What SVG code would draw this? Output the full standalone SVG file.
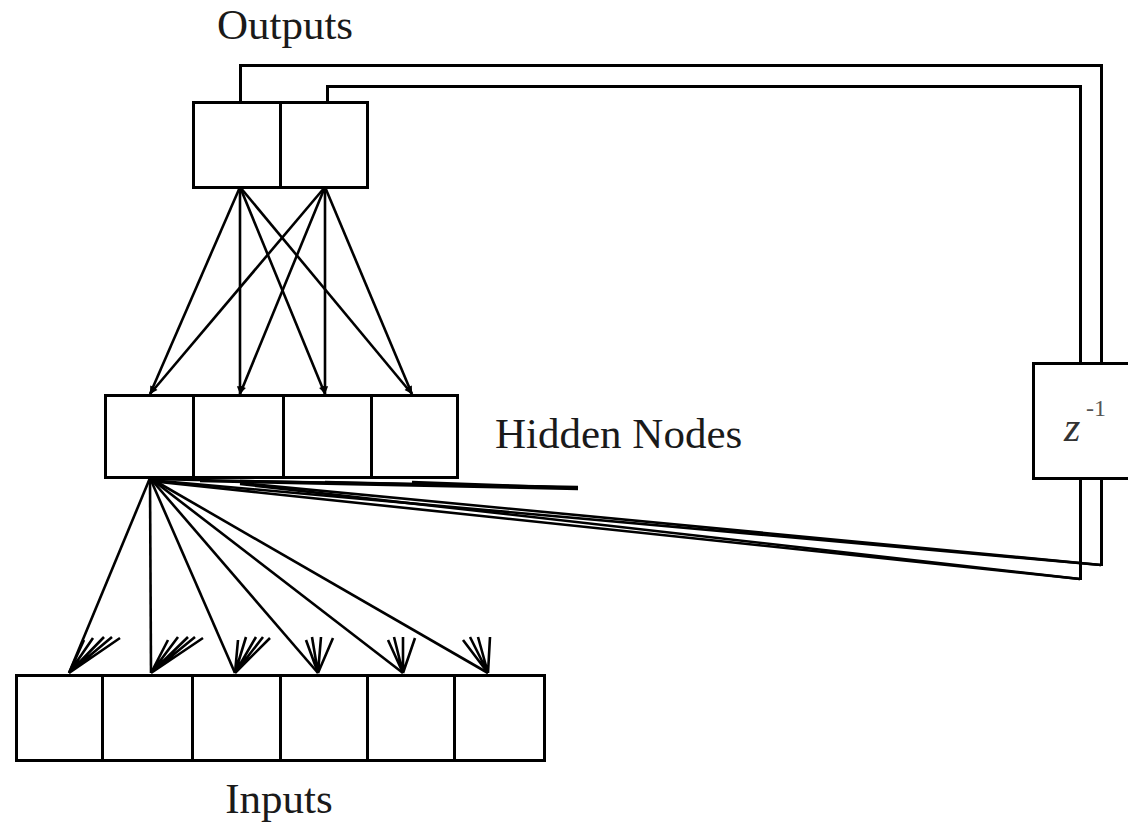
<svg xmlns="http://www.w3.org/2000/svg" width="1128" height="826" viewBox="0 0 1128 826">
  <style>
    .box { fill: #fff; stroke: #000; stroke-width: 3; shape-rendering: crispEdges; }
    .ln { fill: none; stroke: #000; stroke-width: 2.6; stroke-linecap: butt; }
    .fb { fill: none; stroke: #000; stroke-width: 3; shape-rendering: crispEdges; }
    .lbl { font-family: "Liberation Serif", "Times New Roman", serif; font-size: 43px; fill: #1a1a1a; }
    .z { font-family: "Liberation Serif", "Times New Roman", serif; font-style: italic; font-size: 42px; fill: #333; }
    .sup { font-family: "Liberation Serif", "Times New Roman", serif; font-size: 24px; fill: #555; }
  </style>
  <defs>
    <marker id="ah" viewBox="0 0 10 10" refX="10" refY="5" markerWidth="3.5" markerHeight="3" orient="auto" markerUnits="strokeWidth">
      <path d="M0,1 L10,5 L0,9 Z" fill="#000"/>
    </marker>
  </defs>

  <rect width="1128" height="826" fill="#fff"/>

  <g id="connectors">
    <!-- output to hidden -->
    <g class="ln">
      <line x1="240" y1="187" x2="150" y2="394" marker-end="url(#ah)"/>
      <line x1="240" y1="187" x2="240" y2="394" marker-end="url(#ah)"/>
      <line x1="240" y1="187" x2="325" y2="394" marker-end="url(#ah)"/>
      <line x1="240" y1="187" x2="412" y2="394" marker-end="url(#ah)"/>
      <line x1="325" y1="187" x2="150" y2="394" marker-end="url(#ah)"/>
      <line x1="325" y1="187" x2="240" y2="394" marker-end="url(#ah)"/>
      <line x1="325" y1="187" x2="325" y2="394" marker-end="url(#ah)"/>
      <line x1="325" y1="187" x2="412" y2="394" marker-end="url(#ah)"/>
    </g>
    <!-- hidden to inputs -->
    <g class="ln">
      <line x1="150" y1="478" x2="69" y2="673"/>
      <line x1="150" y1="478" x2="151" y2="673"/>
      <line x1="150" y1="478" x2="235" y2="673"/>
      <line x1="150" y1="478" x2="318" y2="673"/>
      <line x1="150" y1="478" x2="403" y2="673"/>
      <line x1="150" y1="478" x2="488" y2="673"/>
    </g>
    <!-- arrowhead fans at inputs -->
    <g class="ln">
      <path d="M69,673 L84,640 M69,673 L93,638 M69,673 L104,637 M69,673 L120,638 M69,673 L112,637"/>
      <path d="M151,673 L168,640 M151,673 L178,637 M151,673 L188,637 M151,673 L203,638 M151,673 L195,637"/>
      <path d="M235,673 L238,640 M235,673 L246,637 M235,673 L256,637 M235,673 L270,638 M235,673 L263,637"/>
      <path d="M318,673 L306,640 M318,673 L312,637 M318,673 L321,637 M318,673 L333,638"/>
      <path d="M403,673 L388,640 M403,673 L394,637 M403,673 L403,637 M403,673 L415,638"/>
      <path d="M488,673 L463,640 M488,673 L470,637 M488,673 L478,637 M488,673 L490,637"/>
    </g>
    <!-- lines along hidden bottom -->
    <g class="ln">
      <line x1="150" y1="479" x2="578" y2="488"/>
      <line x1="200" y1="481" x2="578" y2="489"/>
      <line x1="240" y1="481" x2="578" y2="487"/>
      <line x1="325" y1="482" x2="578" y2="488"/>
      <line x1="412" y1="482" x2="578" y2="488"/>
      <line x1="150" y1="480" x2="1101" y2="565"/>
      <line x1="150" y1="481" x2="1080" y2="579"/>
      <line x1="240" y1="483" x2="1101" y2="565"/>
      <line x1="240" y1="484" x2="1080" y2="579"/>
    </g>
    <!-- feedback loop -->
    <g class="fb">
      <polyline points="240,102 240,65 1101,65 1101,363"/>
      <polyline points="327,102 327,86 1080,86 1080,363"/>
      <line x1="1101" y1="478" x2="1101" y2="566"/>
      <line x1="1080" y1="478" x2="1080" y2="580"/>
    </g>
  </g>

  <g id="outputs">
    <rect class="box" x="193" y="102" width="87" height="85"/>
    <rect class="box" x="280" y="102" width="87" height="85"/>
    <text class="lbl" x="285" y="39" text-anchor="middle">Outputs</text>
  </g>

  <g id="hidden">
    <rect class="box" x="105" y="395" width="88" height="82"/>
    <rect class="box" x="193" y="395" width="90" height="82"/>
    <rect class="box" x="283" y="395" width="88" height="82"/>
    <rect class="box" x="371" y="395" width="86" height="82"/>
    <text class="lbl" x="495" y="448">Hidden Nodes</text>
  </g>

  <g id="inputs">
    <rect class="box" x="16" y="675" width="86" height="85"/>
    <rect class="box" x="102" y="675" width="90" height="85"/>
    <rect class="box" x="192" y="675" width="88" height="85"/>
    <rect class="box" x="280" y="675" width="87" height="85"/>
    <rect class="box" x="367" y="675" width="87" height="85"/>
    <rect class="box" x="454" y="675" width="90" height="85"/>
    <text class="lbl" x="279" y="813" text-anchor="middle">Inputs</text>
  </g>

  <g id="delay">
    <rect class="box" x="1033" y="363" width="100" height="115"/>
    <text class="z" x="1064" y="441">z</text>
    <text class="sup" x="1086" y="416">-1</text>
  </g>
</svg>
